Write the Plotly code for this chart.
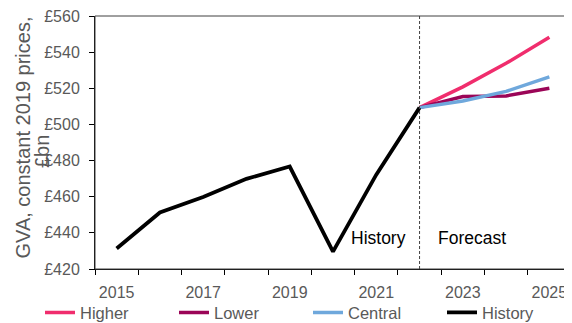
import plotly.graph_objects as go

hist_years = [2015, 2016, 2017, 2018, 2019, 2020, 2021, 2022]
hist_values = [431.3, 451.3, 459.8, 469.9, 476.7, 429.6, 472.2, 509.3]

fc_years = [2022, 2023, 2024, 2025]
higher = [509.3, 520.8, 533.8, 548.3]
lower = [509.3, 515.4, 515.8, 520.0]
central = [509.3, 513.0, 518.3, 526.3]

tick_years = [2015, 2017, 2019, 2021, 2023, 2025]
tick_labels = ["2015", "2017", "2019", "2021", "2023", "2025"]
forecast_start = 2022

FONT = "Liberation Sans, Arial, sans-serif"
GREY = "#595959"

# page body has an 8px default margin; compensate
OFF = 8
PL, PR, PT, PB = 95, 571, 16, 269  # plot area in window pixels
PW, PH = PR - PL, PB - PT

fig = go.Figure()
fig.add_trace(go.Scatter(x=fc_years, y=higher, name="Higher", mode="lines",
                         line=dict(color="#F02D6D", width=3.5)))
fig.add_trace(go.Scatter(x=fc_years, y=lower, name="Lower", mode="lines",
                         line=dict(color="#9B0557", width=3.5)))
fig.add_trace(go.Scatter(x=fc_years, y=central, name="Central", mode="lines",
                         line=dict(color="#6FA8DC", width=3.5)))
fig.add_trace(go.Scatter(x=hist_years, y=hist_values, name="History", mode="lines",
                         line=dict(color="#000000", width=3.8)))

fig.add_shape(type="line", xref="x", yref="paper", x0=forecast_start, x1=forecast_start,
              y0=0, y1=1, line=dict(color="#404040", width=1, dash="3px,2px"))
fig.add_shape(type="rect", xref="paper", yref="paper", x0=0, x1=1, y0=0, y1=1,
              line=dict(color="#404040", width=1))

fig.add_annotation(x=forecast_start, y=437.3, xref="x", yref="y", text="History",
                   showarrow=False, xanchor="right", xshift=-12,
                   font=dict(family=FONT, size=17.5, color="#000000"))
fig.add_annotation(x=forecast_start, y=437.3, xref="x", yref="y", text="Forecast",
                   showarrow=False, xanchor="left", xshift=16,
                   font=dict(family=FONT, size=17.5, color="#000000"))

# y-axis title (two lines, second overlapping tick labels as in the reference)
fig.add_annotation(x=(22 - PL) / PW, y=(PB - 137.5) / PH, xref="paper", yref="paper",
                   text="GVA, constant 2019 prices,", textangle=-90, showarrow=False,
                   xanchor="center", yanchor="middle",
                   font=dict(family=FONT, size=20, color=GREY))
fig.add_annotation(x=(42 - PL) / PW, y=(PB - 152) / PH, xref="paper", yref="paper",
                   text="£bn", textangle=-90, showarrow=False,
                   xanchor="center", yanchor="middle",
                   font=dict(family=FONT, size=20, color=GREY))

fig.update_layout(
    width=572 - OFF, height=323 - OFF,
    margin=dict(l=PL - OFF, r=572 - PR, t=PT - OFF, b=323 - PB, autoexpand=False),
    paper_bgcolor="white", plot_bgcolor="white",
    font=dict(family=FONT, color=GREY),
    showlegend=True,
    legend=dict(orientation="h", x=(40 - PL) / PW, xanchor="left",
                y=(PB - 312.7) / PH, yanchor="middle",
                entrywidth=89, entrywidthmode="pixels",
                font=dict(family=FONT, size=16.5, color=GREY),
                bgcolor="rgba(0,0,0,0)"),
    xaxis=dict(range=[2014.5, 2025.5], tickmode="array", tickvals=tick_years,
               ticktext=tick_labels, ticks="", showgrid=False, zeroline=False,
               showline=True, linecolor="#000000", linewidth=1,
               ticklabelstandoff=9, ticklabeloverflow="allow",
               tickfont=dict(family=FONT, size=16, color=GREY),
               minor=dict(tickmode="array",
                          tickvals=[2014.5 + i for i in range(12)],
                          ticks="outside", ticklen=5, tickcolor="#000000",
                          showgrid=False)),
    yaxis=dict(range=[420, 560], dtick=20, tick0=420, tickprefix="£",
               ticks="outside", ticklen=5, tickcolor="#000000",
               showgrid=False, zeroline=False, showline=True,
               linecolor="#000000", linewidth=1, ticklabelstandoff=6,
               ticklabeloverflow="allow",
               tickfont=dict(family=FONT, size=16, color=GREY)),
)

fig.write_html("out.html")
